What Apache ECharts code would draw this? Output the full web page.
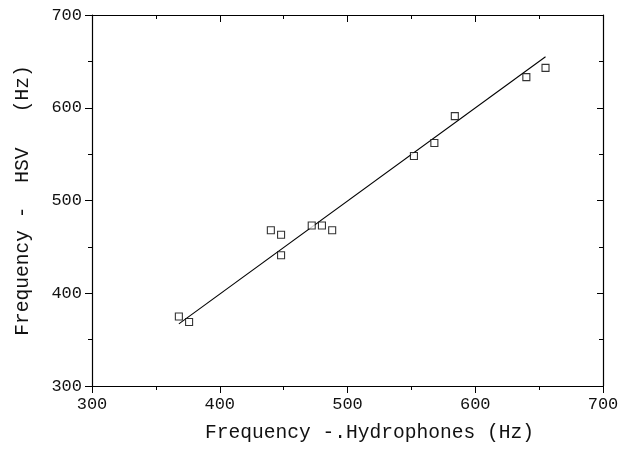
<!DOCTYPE html>
<html>
<head>
<meta charset="utf-8">
<script src="https://cdn.jsdelivr.net/npm/echarts@6/dist/echarts.min.js"></script>
<style>html,body{margin:0;padding:0;background:#fff}#c{width:626px;height:452px}</style>
</head>
<body>
<div id="c"></div>
<script>
var hydrophoneFreq = [368, 376, 440, 448, 448, 472, 480, 488, 552, 568, 584, 640, 655];
var hsvFreq =        [375, 369, 468, 463, 441, 473, 473, 468, 548, 562, 591, 633, 643];
var fitLineX = [368, 655];
var fitLineY = [367, 655];
var xTicks = [300, 400, 500, 600, 700];
var yTicks = [300, 400, 500, 600, 700];

var FONT = '"Liberation Mono", "DejaVu Sans Mono", monospace';
var chart = echarts.init(document.getElementById('c'), null, {renderer: 'canvas'});

function pairs(xs, ys) { return xs.map(function (x, i) { return [x, ys[i]]; }); }

var axLine = {show: true, lineStyle: {color: '#000', width: 1.2}};
var baseX = {type: 'value', min: xTicks[0], max: xTicks[xTicks.length - 1], interval: 100, splitLine: {show: false}};
var baseY = {type: 'value', min: yTicks[0], max: yTicks[yTicks.length - 1], interval: 100, splitLine: {show: false}};

chart.setOption({
  animation: false,
  backgroundColor: '#fff',
  grid: {left: 92, right: 23, top: 15, bottom: 66, containLabel: false},
  xAxis: [
    Object.assign({}, baseX, {
      position: 'bottom',
      name: 'Frequency -.Hydrophones (Hz)',
      nameLocation: 'middle', nameGap: 37,
      nameTextStyle: {fontFamily: FONT, fontSize: 19.6, color: '#111', padding: [0, 0, 0, 44]},
      axisLine: axLine,
      axisTick: {show: true, inside: false, length: 7, lineStyle: {color: '#000'}},
      minorTick: {show: true, splitNumber: 2, length: 4, lineStyle: {color: '#000'}},
      axisLabel: {fontFamily: FONT, fontSize: 17, color: '#111', margin: 10}
    }),
    Object.assign({}, baseX, {
      position: 'top',
      axisLine: axLine,
      axisTick: {show: true, inside: true, length: 7, lineStyle: {color: '#000'}},
      minorTick: {show: true, splitNumber: 2, length: 4, lineStyle: {color: '#000'}},
      axisLabel: {show: false}
    })
  ],
  yAxis: [
    Object.assign({}, baseY, {
      position: 'left',
      name: 'Frequency -  HSV   (Hz)',
      nameLocation: 'middle', nameGap: 59,
      nameTextStyle: {fontFamily: FONT, fontSize: 19.6, color: '#111'},
      axisLine: axLine,
      axisTick: {show: true, inside: false, length: 7, lineStyle: {color: '#000'}},
      minorTick: {show: true, splitNumber: 2, length: 4, lineStyle: {color: '#000'}},
      axisLabel: {fontFamily: FONT, fontSize: 17, color: '#111', margin: 10}
    }),
    Object.assign({}, baseY, {
      position: 'right',
      axisLine: axLine,
      axisTick: {show: true, inside: true, length: 6, lineStyle: {color: '#000'}},
      minorTick: {show: true, splitNumber: 2, length: 4, lineStyle: {color: '#000'}},
      axisLabel: {show: false}
    })
  ],
  series: [
    {
      type: 'line',
      data: pairs(fitLineX, fitLineY),
      showSymbol: false,
      lineStyle: {color: '#000', width: 1.1},
      z: 2
    },
    {
      type: 'scatter',
      data: pairs(hydrophoneFreq, hsvFreq),
      symbol: 'rect',
      symbolSize: 7,
      itemStyle: {color: '#fff', borderColor: '#000', borderWidth: 1.1},
      z: 3
    }
  ]
});
</script>
</body>
</html>
